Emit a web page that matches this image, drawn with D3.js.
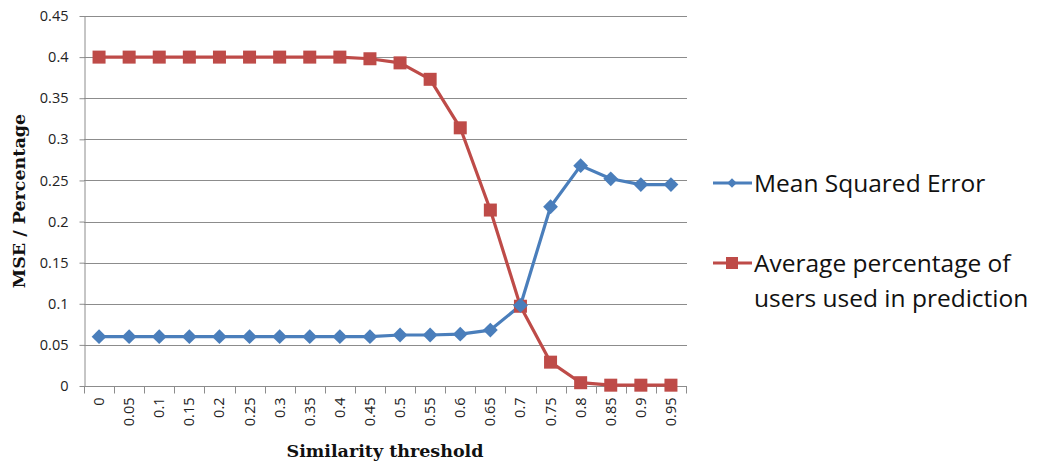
<!DOCTYPE html>
<html>
<head>
<meta charset="utf-8">
<script src="https://cdn.jsdelivr.net/npm/d3@7"></script>
<style>
  html, body { margin: 0; padding: 0; background: #fff; }
  svg { display: block; }
</style>
</head>
<body>
<svg id="chart" width="1039" height="466"></svg>
<script>
// Similarity thresholds on the x axis
const thresholds = ["0","0.05","0.1","0.15","0.2","0.25","0.3","0.35","0.4","0.45",
                    "0.5","0.55","0.6","0.65","0.7","0.75","0.8","0.85","0.9","0.95"];
// Mean squared error per threshold
const mseValues = [0.06,0.06,0.06,0.06,0.06,0.06,0.06,0.06,0.06,0.06,
                   0.062,0.062,0.063,0.068,0.098,0.218,0.268,0.252,0.245,0.245];
// Average share of users used in the prediction
const usersValues = [0.4,0.4,0.4,0.4,0.4,0.4,0.4,0.4,0.4,0.398,
                     0.393,0.373,0.314,0.214,0.097,0.029,0.004,0.001,0.001,0.001];
const yTicks = [0,0.05,0.1,0.15,0.2,0.25,0.3,0.35,0.4,0.45];
const seriesNames = ["Mean Squared Error", "Average percentage of|users used in prediction"];

const svg = d3.select("#chart");
const plotLeft = 84, plotRight = 686, plotTop = 16, plotBottom = 386;

const x = d3.scaleBand().domain(thresholds).range([plotLeft, plotRight]);
const y = d3.scaleLinear().domain([0, 0.45]).range([plotBottom, plotTop]);
const cx = i => x(thresholds[i]) + x.bandwidth() / 2;

const gridColor = "#8c8c8c";
const tickFont = "'Open Sans', 'Noto Sans', sans-serif";

// Horizontal gridlines
svg.append("g").selectAll("line").data(yTicks.filter(d => d > 0)).join("line")
  .attr("x1", plotLeft).attr("x2", plotRight + 1)
  .attr("y1", d => Math.round(y(d)) + 0.5).attr("y2", d => Math.round(y(d)) + 0.5)
  .attr("stroke", gridColor).attr("stroke-width", 1);

// Y axis
const yAxis = svg.append("g").attr("transform", `translate(${plotLeft + 0.5},0)`)
  .call(d3.axisLeft(y).tickValues(yTicks).tickFormat(d => String(+d.toFixed(2))).tickSize(5).tickSizeOuter(0));
yAxis.select(".domain").attr("stroke", gridColor);
yAxis.selectAll(".tick line").attr("stroke", gridColor);
yAxis.selectAll(".tick text").attr("font-family", tickFont).attr("font-size", 14.5)
  .attr("fill", "#222").attr("x", -16);

// X axis with ticks on category boundaries
const xAxisG = svg.append("g").attr("transform", `translate(0,${plotBottom + 0.5})`);
xAxisG.append("line").attr("x1", plotLeft).attr("x2", plotRight + 1).attr("stroke", gridColor);
const boundaries = d3.range(thresholds.length + 1).map(i => plotLeft + i * x.step());
xAxisG.selectAll("line.b").data(boundaries).join("line").attr("class", "b")
  .attr("x1", d => Math.round(d) + 0.5).attr("x2", d => Math.round(d) + 0.5)
  .attr("y1", 0).attr("y2", 7).attr("stroke", gridColor);
xAxisG.selectAll("text").data(thresholds).join("text")
  .attr("transform", (d, i) => `translate(${cx(i) + 5},11) rotate(-90)`)
  .attr("text-anchor", "end")
  .attr("font-family", tickFont).attr("font-size", 14.5).attr("fill", "#222")
  .text(d => d);

// Axis titles
svg.append("text").attr("x", 385).attr("y", 457).attr("text-anchor", "middle")
  .attr("font-family", "'DejaVu Serif', serif").attr("font-weight", "bold").attr("font-size", 17.5)
  .attr("fill", "#111").text("Similarity threshold");
svg.append("text").attr("transform", "translate(25,201) rotate(-90)").attr("text-anchor", "middle")
  .attr("font-family", "'DejaVu Serif', serif").attr("font-weight", "bold").attr("font-size", 17.5)
  .attr("fill", "#111").text("MSE / Percentage");

const line = d3.line().x((d, i) => cx(i)).y(d => y(d));
const blue = "#4a7ebb", red = "#be4b48";

// Users series first, MSE on top
svg.append("path").datum(usersValues).attr("d", line)
  .attr("fill", "none").attr("stroke", red).attr("stroke-width", 3.2).attr("stroke-linejoin", "round");
svg.append("path").datum(mseValues).attr("d", line)
  .attr("fill", "none").attr("stroke", blue).attr("stroke-width", 3.2).attr("stroke-linejoin", "round");

const sq = 13;
svg.append("g").selectAll("rect").data(usersValues).join("rect")
  .attr("x", (d, i) => cx(i) - sq / 2)
  .attr("y", d => y(d) - sq / 2).attr("width", sq).attr("height", sq).attr("fill", red);

// Diamond markers: squares rotated 45 degrees
const diamond = d3.symbol().type(d3.symbolSquare).size(110);
svg.append("g").selectAll("path").data(mseValues).join("path")
  .attr("transform", (d, i) => `translate(${cx(i)},${y(d)}) rotate(45)`)
  .attr("d", diamond).attr("fill", blue);

// Legend
const legendFont = "'Open Sans', 'Lato', sans-serif";
const lg = svg.append("g");
[[blue, 183], [red, 263]].forEach(([c, ly], i) => {
  lg.append("line").attr("x1", 713).attr("x2", 752).attr("y1", ly).attr("y2", ly)
    .attr("stroke", c).attr("stroke-width", 3);
  if (i === 0) {
    lg.append("path").attr("transform", `translate(732,${ly}) rotate(45)`)
      .attr("d", d3.symbol().type(d3.symbolSquare).size(45)).attr("fill", c);
  } else {
    lg.append("rect").attr("x", 726).attr("y", ly - 6).attr("width", 12).attr("height", 12).attr("fill", c);
  }
  seriesNames[i].split("|").forEach((t, j) => {
    lg.append("text").attr("x", 754).attr("y", ly + 9 + j * 35)
      .attr("font-family", legendFont).attr("font-size", 24.5).attr("fill", "#111").text(t);
  });
});
</script>
</body>
</html>
